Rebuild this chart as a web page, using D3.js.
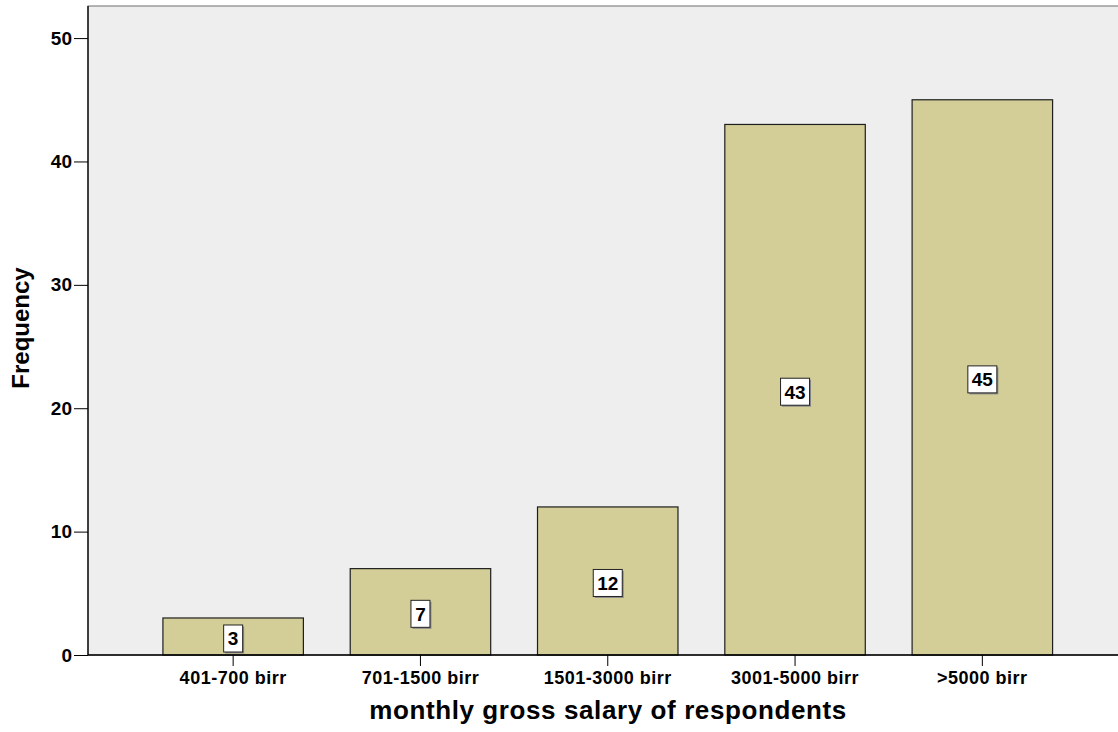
<!DOCTYPE html>
<html>
<head>
<meta charset="utf-8">
<script src="https://cdn.jsdelivr.net/npm/d3@7"></script>
<style>
  html, body { margin: 0; padding: 0; background: #ffffff; }
  svg { display: block; font-family: "Liberation Sans", Arial, sans-serif; }
</style>
</head>
<body>
<svg id="chart" width="1118" height="732"></svg>
<script>
// Salary bands and respondent counts
const categories = ["401-700 birr", "701-1500 birr", "1501-3000 birr", "3001-5000 birr", ">5000 birr"];
const frequencies = [3, 7, 12, 43, 45];
const yTicks = [0, 10, 20, 30, 40, 50];
const xTitle = "monthly gross salary of respondents";
const yTitle = "Frequency";

const svg = d3.select("#chart");
const plot = { left: 88, top: 6, right: 1127.5, bottom: 655 };

const x = d3.scaleBand()
  .domain(categories)
  .range([plot.left, plot.right])
  .paddingInner(0.25)
  .paddingOuter(0.4);

const y = d3.scaleLinear()
  .domain([0, 52.6])
  .range([plot.bottom, plot.top]);

// plot background
svg.append("rect")
  .attr("x", plot.left).attr("y", plot.top)
  .attr("width", plot.right - plot.left).attr("height", plot.bottom - plot.top)
  .attr("fill", "#eeeeee")
  .attr("stroke", "#6e6e6e").attr("stroke-width", 1);

// bars
svg.append("g").selectAll("rect")
  .data(frequencies)
  .join("rect")
  .attr("x", (d, i) => x(categories[i]))
  .attr("y", d => y(d))
  .attr("width", x.bandwidth())
  .attr("height", d => y(0) - y(d))
  .attr("fill", "#d3ce98")
  .attr("stroke", "#1e1e1e")
  .attr("stroke-width", 1.2);

// y axis
const yAxis = svg.append("g")
  .attr("transform", `translate(${plot.left},0)`)
  .call(d3.axisLeft(y).tickValues(yTicks).tickSize(14).tickPadding(2).tickFormat(d3.format("d")));
yAxis.select(".domain").attr("stroke", "#000").attr("stroke-width", 1.3)
  .attr("d", `M0,${plot.top}V${plot.bottom}`);
yAxis.selectAll(".tick line").attr("stroke", "#000");
yAxis.selectAll(".tick text")
  .attr("font-size", 19).attr("font-weight", "bold").attr("fill", "#000")
  .attr("font-family", "Liberation Sans, Arial, sans-serif");

// x axis
const xAxis = svg.append("g")
  .attr("transform", `translate(0,${plot.bottom})`)
  .call(d3.axisBottom(x).tickSize(11).tickPadding(5));
xAxis.select(".domain").attr("stroke", "#000").attr("stroke-width", 1.3)
  .attr("d", `M${plot.left},0H${plot.right}`);
xAxis.selectAll(".tick line").attr("stroke", "#000");
xAxis.selectAll(".tick text")
  .attr("font-size", 18).attr("font-weight", "bold").attr("fill", "#000")
  .attr("letter-spacing", "0.5px")
  .attr("font-family", "Liberation Sans, Arial, sans-serif");

// value labels in boxes at bar mid-height
const labels = svg.append("g").selectAll("g")
  .data(frequencies)
  .join("g")
  .attr("transform", (d, i) => `translate(${x(categories[i]) + x.bandwidth() / 2},${y(d / 2) + 2})`);

labels.each(function(d) {
  const g = d3.select(this);
  const t = String(d);
  const w = t.length === 1 ? 19 : 29;
  const h = 27;
  g.append("rect")
    .attr("x", -w / 2 + 1.5).attr("y", -h / 2 + 1.5)
    .attr("width", w).attr("height", h)
    .attr("fill", "#8a8a8a");
  g.append("rect")
    .attr("x", -w / 2).attr("y", -h / 2)
    .attr("width", w).attr("height", h)
    .attr("fill", "#ffffff").attr("stroke", "#222").attr("stroke-width", 1);
  g.append("text")
    .attr("text-anchor", "middle")
    .attr("dy", "0.36em")
    .attr("font-size", 19).attr("font-weight", "bold")
    .text(t);
});

// axis titles
svg.append("text")
  .attr("x", 608).attr("y", 719)
  .attr("text-anchor", "middle")
  .attr("font-size", 26).attr("font-weight", "bold")
  .attr("letter-spacing", "0.6px")
  .text(xTitle);

svg.append("text")
  .attr("transform", "translate(29,328) rotate(-90)")
  .attr("text-anchor", "middle")
  .attr("font-size", 24).attr("font-weight", "bold")
  .text(yTitle);
</script>
</body>
</html>
